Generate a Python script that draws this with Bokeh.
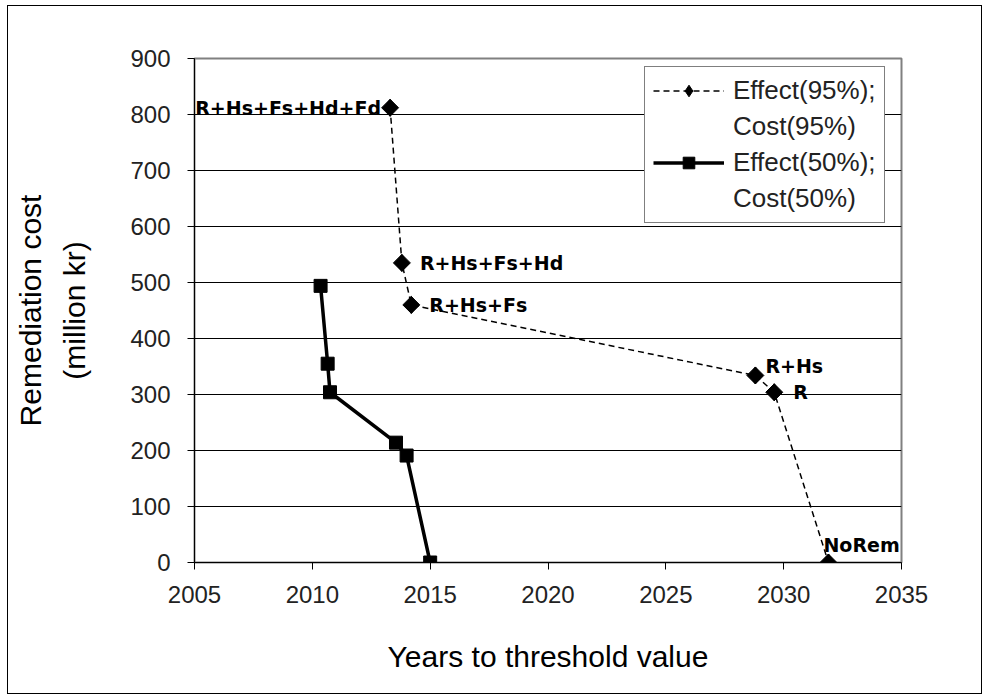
from bokeh.plotting import figure
from bokeh.models import ColumnDataSource, Legend, LegendItem, FixedTicker, Range1d
from bokeh.core.properties import value
from bokeh.embed import file_html
from bokeh.resources import INLINE

# ---- data ----
x95 = [2013.3, 2013.8, 2014.2, 2028.8, 2029.6, 2031.9]
y95 = [812, 535, 460, 334, 304, 0]
labels95 = ["R+Hs+Fs+Hd+Fd", "R+Hs+Fs+Hd", "R+Hs+Fs", "R+Hs", "R", "NoRem"]

x50 = [2010.35, 2010.65, 2010.75, 2013.55, 2014.0, 2015.0]
y50 = [494, 355, 304, 214, 191, 0]

legend_lines = ["Effect(95%);", "Cost(95%)", "Effect(50%);", "Cost(50%)"]
x_ticks = [2005, 2010, 2015, 2020, 2025, 2030, 2035]
y_ticks = [0, 100, 200, 300, 400, 500, 600, 700, 800, 900]

# ---- label layout (styling only) ----
label_dx = [-9, 18, 18, 10, 19, -5]
label_dy = [0, 0, 0, -9, 0, -18]
label_align = ["right", "left", "left", "left", "left", "left"]

FONT = "Liberation Sans"

p = figure(width=975, height=689, output_backend="svg", toolbar_location=None,
           x_range=Range1d(2005, 2035), y_range=Range1d(0, 900),
           min_border_left=186, min_border_right=82, min_border_top=52, min_border_bottom=133)
p.margin = (5, 0, 0, 7)
p.styles = {"border": "1px solid #000000"}
p.background_fill_color = "white"
p.border_fill_color = "white"
p.outline_line_color = "#808080"
p.outline_line_width = 2

p.xgrid.grid_line_color = None
p.ygrid.ticker = FixedTicker(ticks=y_ticks[1:-1])
p.ygrid.grid_line_color = "black"
p.ygrid.grid_line_width = 1

for ax, ticks in ((p.xaxis[0], x_ticks), (p.yaxis[0], y_ticks)):
    ax.ticker = FixedTicker(ticks=ticks)
    ax.axis_line_color = "black"
    ax.axis_line_width = 1
    ax.major_tick_in = 0
    ax.major_tick_out = 7
    ax.minor_tick_line_color = None
    ax.major_tick_line_color = "black"
    ax.major_label_text_font = FONT
    ax.major_label_text_font_size = "24px"
    ax.major_label_text_color = "#222222"
    ax.axis_label_text_font = FONT
    ax.axis_label_text_font_size = "30px"
    ax.axis_label_text_font_style = "normal"
    ax.axis_label_text_color = "black"

p.xaxis.axis_label = "Years to threshold value"
p.xaxis.major_label_standoff = 16
p.xaxis.axis_label_standoff = 34
p.yaxis.axis_label = "Remediation cost\n(million kr)"
p.yaxis.major_label_standoff = 17
p.yaxis.axis_label_standoff = 36
p.yaxis.axis_label_text_line_height = 1.35

src95 = ColumnDataSource(dict(x=x95, y=y95, text=labels95, dx=label_dx, dy=label_dy, align=label_align))
src50 = ColumnDataSource(dict(x=x50, y=y50))

l95 = p.line("x", "y", source=src95, line_color="black", line_width=1.5, line_dash="6 4")
# rotated square gives the broad diamond of the original; the narrower diamond
# inside it is what the legend shows
p.scatter("x", "y", source=src95, marker="square", angle=0.785398, size=12,
          fill_color="black", line_color="black")
m95 = p.scatter("x", "y", source=src95, marker="diamond", size=17,
                fill_color="black", line_color="black")
l50 = p.line("x", "y", source=src50, line_color="black", line_width=3.5)
m50 = p.scatter("x", "y", source=src50, marker="square", size=13, fill_color="black", line_color="black")

p.text("x", "y", text="text", source=src95, x_offset="dx", y_offset="dy",
       text_align="align", text_baseline="middle",
       text_font=value("DejaVu Sans"), text_font_style="bold", text_font_size="19px",
       text_color="black")

legend = Legend(items=[LegendItem(label=legend_lines[0], renderers=[l95, m95]),
                       LegendItem(label=legend_lines[1], renderers=[]),
                       LegendItem(label=legend_lines[2], renderers=[l50, m50]),
                       LegendItem(label=legend_lines[3], renderers=[])],
                location=(450, 339))
legend.border_line_color = "black"
legend.border_line_width = 1
legend.background_fill_color = "white"
legend.background_fill_alpha = 1
legend.label_text_font = FONT
legend.label_text_font_size = "26px"
legend.label_text_line_height = 1.1
legend.label_text_color = "#222222"
legend.label_height = 29
legend.glyph_width = 71
legend.glyph_height = 29
legend.label_standoff = 9
legend.padding = 8
legend.spacing = 5
legend.margin = 0
p.add_layout(legend, "center")

open("out.html", "w").write(file_html(p, INLINE))
